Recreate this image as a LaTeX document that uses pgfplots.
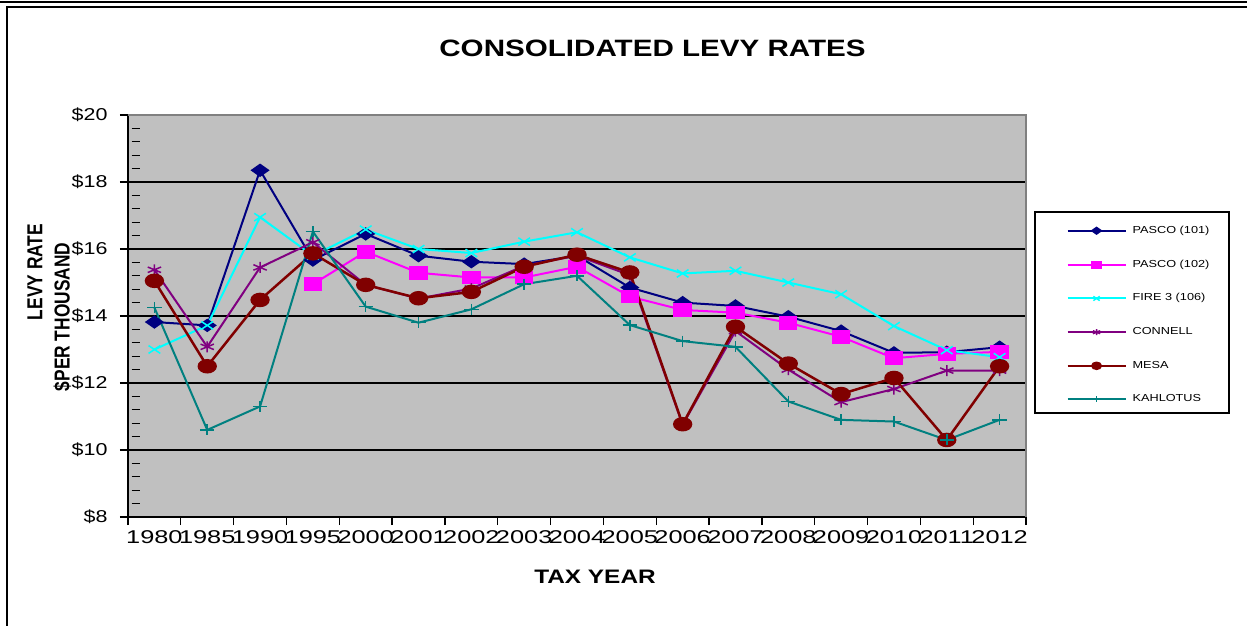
\documentclass[border=0pt]{standalone}
\usepackage{pgfplots}
\pgfplotsset{compat=1.18}
\usepackage{pgfplotstable}
\usepackage{fontspec}
\setmainfont{Liberation Sans}[FakeStretch=1.25]
\newfontfamily\plainfont{Liberation Sans}
\newfontfamily\tickfont{Liberation Sans}[FakeStretch=1.37]
\definecolor{cnavy}{RGB}{0,0,128}
\definecolor{cmag}{RGB}{255,0,255}
\definecolor{ccyan}{RGB}{0,255,255}
\definecolor{cpurp}{RGB}{128,0,128}
\definecolor{cmesa}{RGB}{128,0,0}
\definecolor{cteal}{RGB}{0,128,128}
\definecolor{cbg}{RGB}{192,192,192}
\definecolor{cframe}{RGB}{128,128,128}
\pgfplotstableread{
x p101 p102 fire con mesa kah
0 13.82 nan 13.0 15.38 15.05 14.25
1 13.72 nan 13.72 13.08 12.5 10.6
2 18.35 nan 16.95 15.45 14.48 11.3
3 15.67 14.95 15.8 16.2 15.87 16.52
4 16.45 15.92 16.58 14.93 14.93 14.28
5 15.8 15.29 16.0 14.52 14.53 13.8
6 15.62 15.15 15.88 14.82 14.72 14.2
7 15.55 15.15 16.22 15.5 15.47 14.95
8 15.8 15.47 16.5 15.8 15.83 15.2
9 14.85 14.58 15.75 15.22 15.3 13.73
10 14.4 14.18 15.27 10.75 10.77 13.25
11 14.3 14.1 15.35 13.55 13.68 13.08
12 13.98 13.8 15.0 12.4 12.58 11.45
13 13.55 13.38 14.65 11.43 11.67 10.9
14 12.9 12.74 13.7 11.82 12.15 10.85
15 12.92 12.87 12.98 12.37 10.3 10.3
16 13.07 12.93 12.77 12.37 12.5 10.9
}\levy
\begin{document}
\begin{tikzpicture}
\useasboundingbox (0,0) rectangle (748.2pt,-375pt);
\draw[line width=1.2pt] (0,-0.9pt) -- (748.2pt,-0.9pt);
\draw[line width=1.2pt] (748.2pt,-4.2pt) -- (4.2pt,-4.2pt) -- (4.2pt,-376pt);
\begin{axis}[
  at={(76.8pt,-310.2pt)}, anchor=south west,
  scale only axis, width=538.8pt, height=241.2pt,
  xmin=-0.5, xmax=16.5, ymin=8, ymax=20,
  axis lines*=left,
  axis line style={black, line width=1pt},
  axis background/.style={fill=cbg},
  xtick={0,...,16},
  xticklabels={1980,1985,1990,1995,2000,2001,2002,2003,2004,2005,2006,2007,2008,2009,2010,2011,2012},
  minor xtick={-0.5,0.5,...,16.5},
  major x tick style={draw=none},
  minor x tick style={black, line width=0.8pt},
  minor tick length=4.8pt,
  major tick length=4.8pt,
  tick align=outside,
  ytick={8,10,...,20},
  minor y tick num=4,
  minor y tick style={black, line width=0.8pt, xshift=7pt},
  major y tick style={black, line width=0.8pt},
  yticklabel={\$\pgfmathprintnumber{\tick}},
  /pgf/number format/assume math mode=true,
  ymajorgrids, grid style={black, line width=1pt},
  xticklabel style={font=\tickfont\fontsize{11.1}{12}\selectfont, inner xsep=0pt},
  yticklabel style={font=\fontsize{10.3}{12}\selectfont, xshift=-4pt},
  clip=false,
  legend style={at={(1.0445,0.5025)}, anchor=west, draw=none, fill=none,
    inner sep=0pt, font=\fontsize{6.1}{7}\selectfont, row sep=14.4pt, column sep=1.5pt,
    nodes={inner ysep=0pt}},
  legend cell align=left,
  legend image code/.code={\draw[mark repeat=2,mark phase=2,#1,mark size=1.8pt] plot coordinates {(0pt,0pt) (17.4pt,0pt) (34.8pt,0pt)};},
]
\draw[cframe, line width=1.2pt] (rel axis cs:0,1) -- (rel axis cs:1,1) -- (rel axis cs:1,0);
\addplot[cnavy, line width=1.2pt, mark=diamond*, mark size=3.3pt, mark options={xscale=1.9, solid}] table[x=x,y=p101] {\levy};
\addlegendentry{PASCO (101)}
\addplot[cmag, line width=1.2pt, mark=square*, mark size=3.5pt, mark options={xscale=1.4}] table[x=x,y=p102] {\levy};
\addlegendentry{PASCO (102)}
\addplot[ccyan, line width=1.2pt, mark=x, mark size=3.3pt, mark options={xscale=1.5, line width=0.9pt}] table[x=x,y=fire] {\levy};
\addlegendentry{FIRE 3 (106)}
\addplot[cpurp, line width=1.2pt, mark=asterisk, mark size=3.3pt, mark options={xscale=1.4, line width=0.9pt}] table[x=x,y=con] {\levy};
\addlegendentry{CONNELL}
\addplot[cmesa, line width=1.5pt, mark=*, mark size=3.6pt, mark options={xscale=1.4}] table[x=x,y=mesa] {\levy};
\addlegendentry{MESA}
\addplot[cteal, line width=1.2pt, mark=+, mark size=3.3pt, mark options={xscale=1.3, line width=0.9pt}] table[x=x,y=kah] {\levy};
\addlegendentry{KAHLOTUS}
\end{axis}
\draw[line width=0.9pt] (621pt,-127.2pt) rectangle (737.4pt,-247.8pt);
\node[font=\bfseries\fontsize{14.2}{16}\selectfont] at (391.5pt,-28.8pt) {CONSOLIDATED LEVY RATES};
\node[font=\bfseries\fontsize{11.7}{13}\selectfont] at (357pt,-346.2pt) {TAX YEAR};
\node[inner sep=0pt] at (21pt,-163.2pt) {\scalebox{1.25}[1]{\rotatebox{90}{\plainfont\bfseries\fontsize{10.4}{12}\selectfont LEVY RATE}}};
\node[inner sep=0pt] at (37.5pt,-190.2pt) {\scalebox{1.25}[1]{\rotatebox{90}{\plainfont\bfseries\fontsize{10.4}{12}\selectfont \$PER THOUSAND}}};
\end{tikzpicture}
\end{document}
